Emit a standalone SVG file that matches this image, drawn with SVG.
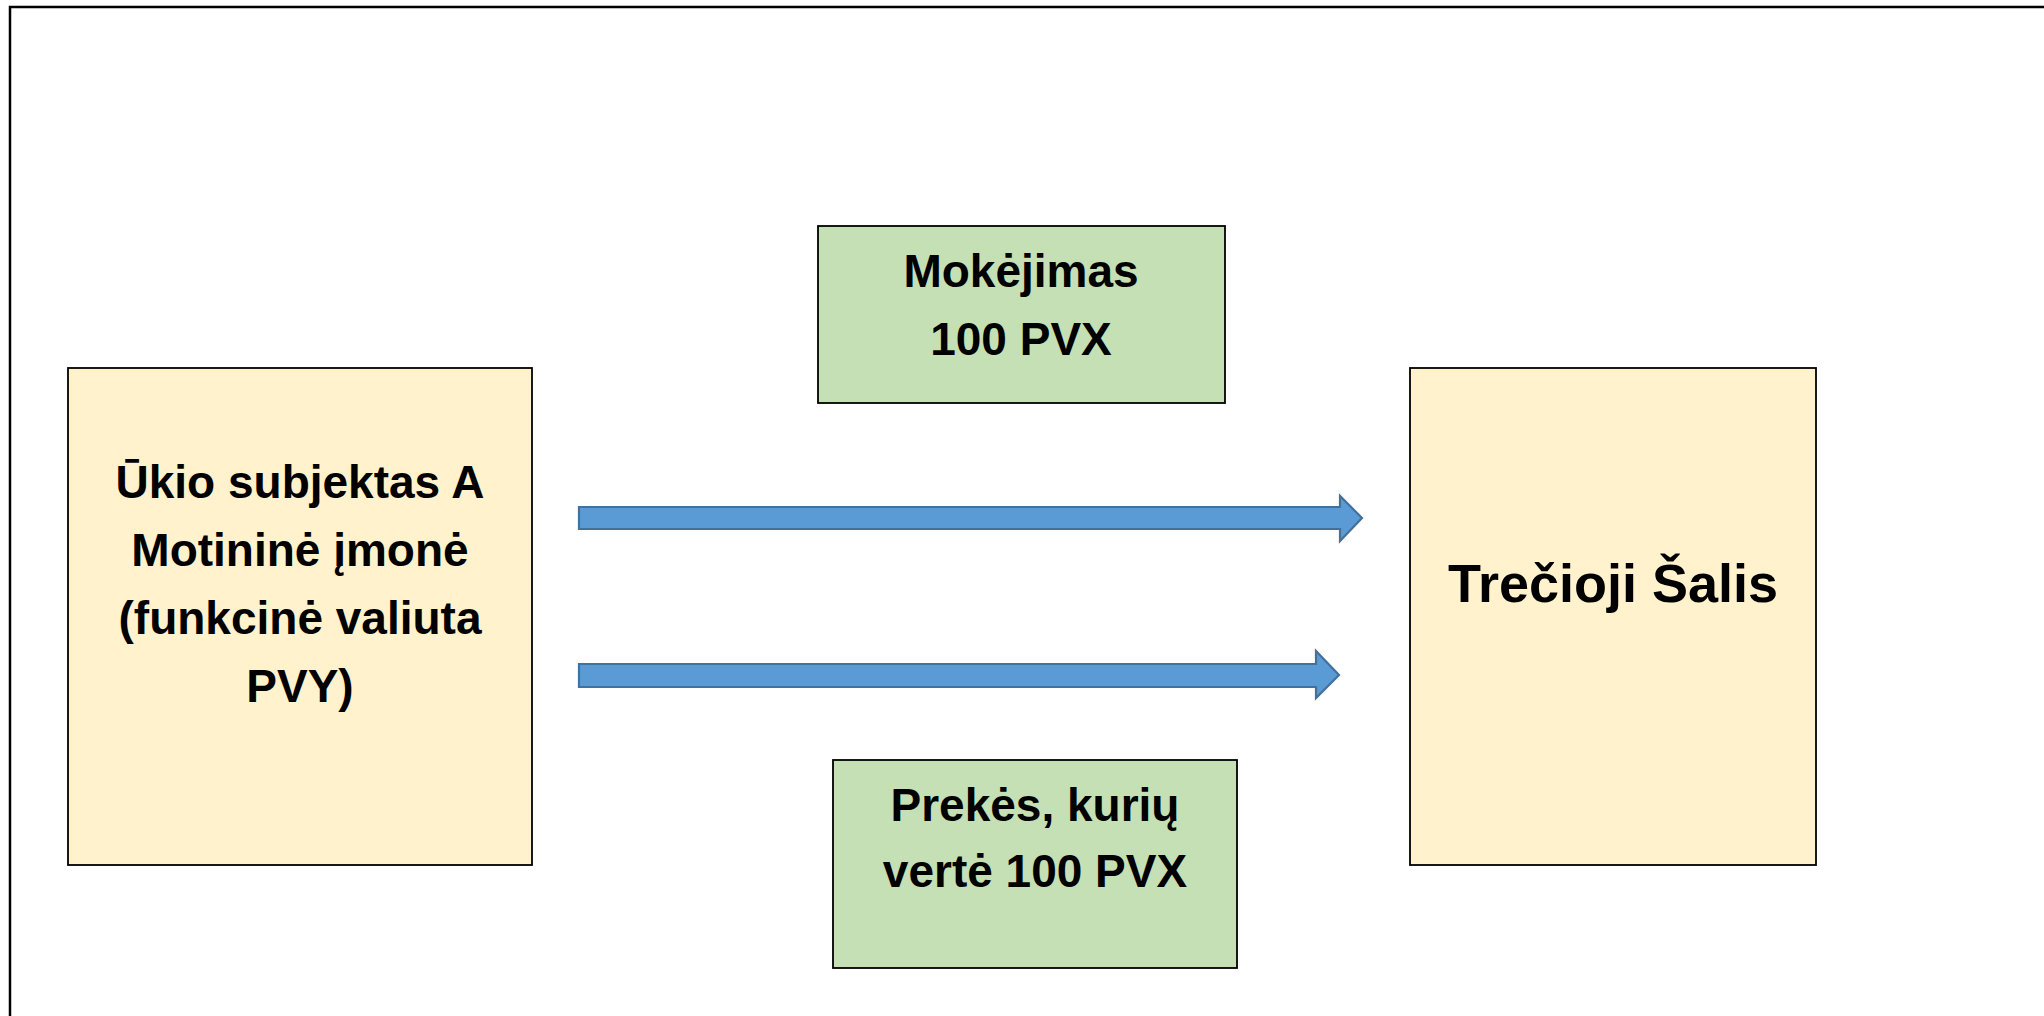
<svg xmlns="http://www.w3.org/2000/svg" width="2044" height="1016" viewBox="0 0 2044 1016">
<style>
.frame{fill:none;stroke:#000;stroke-width:2.5}
.yel{fill:#FFF2CC;stroke:#000;stroke-width:1.8}
.grn{fill:#C5E0B4;stroke:#000;stroke-width:1.8}
.arr{fill:#5B9BD5;stroke:#41719C;stroke-width:2.2;stroke-linejoin:miter}
text{font-family:"Liberation Sans",Arial,sans-serif;font-weight:bold;fill:#000;text-anchor:middle}
.t46{font-size:46px}
.t54{font-size:54px}
</style>
<rect x="0" y="0" width="2044" height="1016" fill="#fff"/>
<rect class="frame" x="10" y="7" width="2100" height="1100"/>
<g id="node-a">
<rect class="yel" x="68" y="368" width="464" height="497"/>
<text class="t46" x="300" y="498">Ūkio subjektas A</text>
<text class="t46" x="300" y="566">Motininė įmonė</text>
<text class="t46" x="300" y="634">(funkcinė valiuta</text>
<text class="t46" x="300" y="702">PVY)</text>
</g>
<g id="node-b">
<rect class="yel" x="1410" y="368" width="406" height="497"/>
<text class="t54" x="1613" y="602">Trečioji Šalis</text>
</g>
<g id="label-payment">
<rect class="grn" x="818" y="226" width="407" height="177"/>
<text class="t46" x="1021" y="287">Mokėjimas</text>
<text class="t46" x="1021" y="355">100 PVX</text>
</g>
<g id="label-goods">
<rect class="grn" x="833" y="760" width="404" height="208"/>
<text class="t46" x="1035" y="821">Prekės, kurių</text>
<text class="t46" x="1035" y="887">vertė 100 PVX</text>
</g>
<g id="connectors">
<path class="arr" d="M579,507 L1340,507 L1340,496 L1362,518 L1340,541 L1340,529 L579,529 Z"/>
<path class="arr" d="M579,664 L1316,664 L1316,651 L1339,675 L1316,698 L1316,687 L579,687 Z"/>
</g>
</svg>
